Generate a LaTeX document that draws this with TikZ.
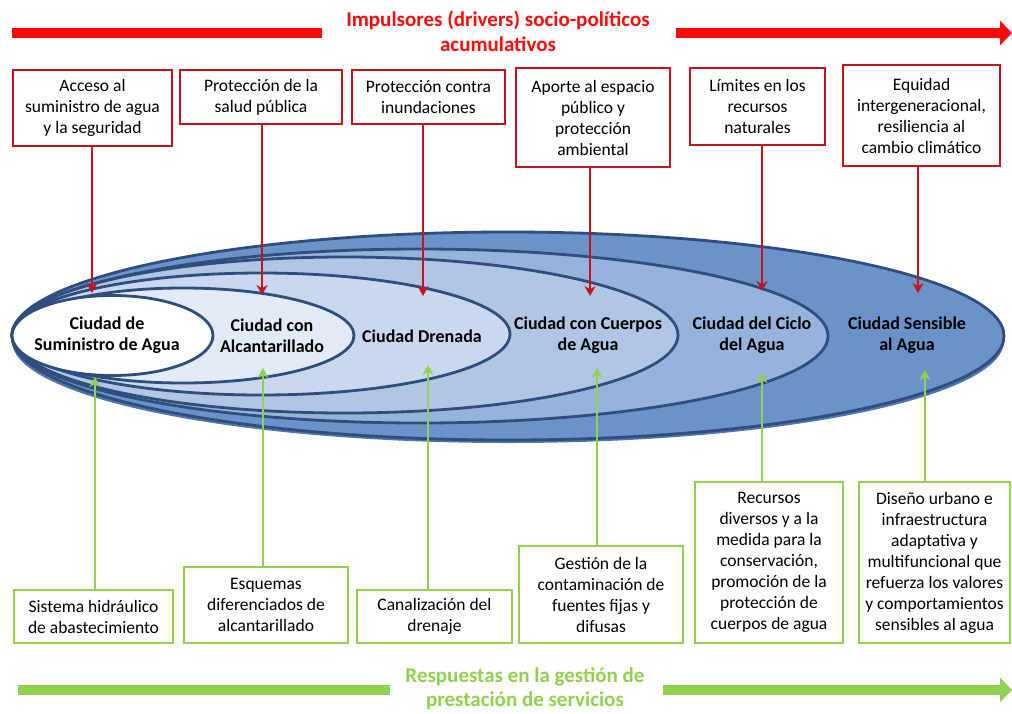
\documentclass[tikz,border=0pt]{standalone}
\usepackage{fontspec}
\setmainfont{Carlito}
\usetikzlibrary{arrows.meta}
\definecolor{dred}{HTML}{C4121F}
\definecolor{bred}{HTML}{FF0A0A}
\definecolor{lgreen}{HTML}{92D050}
\definecolor{navy}{HTML}{2F4E7E}
\definecolor{fA}{HTML}{FFFFFF}
\definecolor{fB}{HTML}{E2EAF5}
\definecolor{fC}{HTML}{C9D8EE}
\definecolor{fD}{HTML}{B1C6E5}
\definecolor{fE}{HTML}{98B3DB}
\definecolor{fF}{HTML}{6B93C9}
\definecolor{fS}{HTML}{4E76AD}
\tikzset{
  redbox/.style={draw=dred, line width=1.8pt, fill=white, align=center, inner sep=2pt,
    font=\fontsize{17.5}{21}\selectfont},
  greenbox/.style={draw=lgreen, line width=1.8pt, fill=white, align=center, inner sep=2pt,
    font=\fontsize{17.5}{21}\selectfont},
  citylabel/.style={align=center, font=\fontsize{18}{21}\selectfont\bfseries, text=black},
  redarrow/.style={draw=dred, line width=2pt, -{Stealth[length=10pt,width=11pt]}},
  greenarrow/.style={draw=lgreen, line width=2pt, -{Stealth[length=10pt,width=11pt]}},
  ell/.style={draw=navy, line width=2.8pt},
  titlered/.style={align=center, text=bred, font=\fontsize{21}{25}\selectfont\bfseries},
  titlegreen/.style={align=center, text=lgreen, font=\fontsize{21}{24}\selectfont\bfseries},
}
\begin{document}
\begin{tikzpicture}[x=1pt,y=-1pt]
\useasboundingbox (0,0) rectangle (1012,713);

% title and red bar
\node[titlered] (ttop) at (498,31.5) {Impulsores (drivers) socio-políticos\\acumulativos};
\coordinate (rb1) at (12,33);
\coordinate (rb2) at (322,33);
\coordinate (rb3) at (676,33);
\coordinate (rb4) at (1012,33);
\draw[bred, line width=10pt] (rb1) -- (rb2);
\draw[bred, line width=10pt, -{Triangle[length=12pt,width=24pt]}] (rb3) -- (rb4);

% ellipses
\fill[fS] (508,341) ellipse [x radius=496pt, y radius=102pt];
\filldraw[ell, fill=fF] (508,336) ellipse [x radius=496pt, y radius=104pt];
\filldraw[ell, fill=fE] (420,336) ellipse [x radius=408pt, y radius=87pt];
\filldraw[ell, fill=fD] (345,335) ellipse [x radius=333pt, y radius=78pt];
\filldraw[ell, fill=fC] (261,334) ellipse [x radius=249pt, y radius=61pt];
\filldraw[ell, fill=fB] (183,335.5) ellipse [x radius=171pt, y radius=47.5pt];
\filldraw[ell, fill=fA] (112.5,335.5) ellipse [x radius=100.5pt, y radius=40pt];

% city labels
\node[citylabel] (c1) at (107,335.5) {Ciudad de\\Suministro de Agua};
\node[citylabel] (c2) at (272,335.5) {Ciudad con\\Alcantarillado};
\node[citylabel] (c3) at (422,336) {Ciudad Drenada};
\node[citylabel] (c4) at (588,335.5) {Ciudad con Cuerpos\\de Agua};
\node[citylabel] (c5) at (752,335.5) {Ciudad del Ciclo\\del Agua};
\node[citylabel] (c6) at (907,335.5) {Ciudad Sensible\\al Agua};

% top boxes
\node[redbox, minimum width=159pt, minimum height=76pt] (t1) at (92.5,108) {Acceso al\\suministro de agua\\y la seguridad};
\node[redbox, minimum width=162pt, minimum height=54pt] (t2) at (261,97) {Protección de la\\salud pública};
\node[redbox, minimum width=153pt, minimum height=54pt] (t3) at (428.5,97) {Protección contra\\inundaciones};
\node[redbox, minimum width=154pt, minimum height=99pt] (t4) at (593,117.5) {Aporte al espacio\\público y\\protección\\ambiental};
\node[redbox, minimum width=135pt, minimum height=77pt] (t5) at (757.5,106.5) {Límites en los\\recursos\\naturales};
\node[redbox, minimum width=157pt, minimum height=101pt] (t6) at (921.5,115.5) {Equidad\\intergeneracional,\\resiliencia al\\cambio climático};

% red arrow tips
\coordinate (r1) at (92,293);
\coordinate (r2) at (262,295);
\coordinate (r3) at (423,296);
\coordinate (r4) at (590,296);
\coordinate (r5) at (762,291);
\coordinate (r6) at (918,293);
\draw[redarrow] (r1 |- t1.south) -- (r1);
\draw[redarrow] (r2 |- t2.south) -- (r2);
\draw[redarrow] (r3 |- t3.south) -- (r3);
\draw[redarrow] (r4 |- t4.south) -- (r4);
\draw[redarrow] (r5 |- t5.south) -- (r5);
\draw[redarrow] (r6 |- t6.south) -- (r6);

% bottom boxes
\node[greenbox, minimum width=159pt, minimum height=53pt] (b1) at (93.5,616.5) {Sistema hidráulico\\de abastecimiento};
\node[greenbox, minimum width=164pt, minimum height=76pt] (b2) at (266,605) {Esquemas\\diferenciados de\\alcantarillado};
\node[greenbox, minimum width=155pt, minimum height=53pt] (b3) at (434.5,616.5) {Canalización del\\drenaje};
\node[greenbox, minimum width=164pt, minimum height=97pt] (b4) at (601,594.5) {Gestión de la\\contaminación de\\fuentes fijas y\\difusas};
\node[greenbox, minimum width=148pt, minimum height=161pt] (b5) at (769,562.5) {Recursos\\diversos y a la\\medida para la\\conservación,\\promoción de la\\protección de\\cuerpos de agua};
\node[greenbox, minimum width=151pt, minimum height=161pt] (b6) at (934.5,562.5) {Diseño urbano e\\infraestructura\\adaptativa y\\multifuncional que\\refuerza los valores\\y comportamientos\\sensibles al agua};

% green arrow tips
\coordinate (g1) at (95,377);
\coordinate (g2) at (263,368);
\coordinate (g3) at (428,365);
\coordinate (g4) at (597,368);
\coordinate (g5) at (762,373);
\coordinate (g6) at (925,370);
\draw[greenarrow] (g1 |- b1.north) -- (g1);
\draw[greenarrow] (g2 |- b2.north) -- (g2);
\draw[greenarrow] (g3 |- b3.north) -- (g3);
\draw[greenarrow] (g4 |- b4.north) -- (g4);
\draw[greenarrow] (g5 |- b5.north) -- (g5);
\draw[greenarrow] (g6 |- b6.north) -- (g6);

% bottom title and green bar
\node[titlegreen] (tbot) at (525,689) {Respuestas en la gestión de\\prestación de servicios};
\coordinate (gb1) at (18,690);
\coordinate (gb2) at (390,690);
\coordinate (gb3) at (663,690);
\coordinate (gb4) at (1012,690);
\draw[lgreen, line width=10pt] (gb1) -- (gb2);
\draw[lgreen, line width=10pt, -{Triangle[length=12pt,width=24pt]}] (gb3) -- (gb4);
\end{tikzpicture}
\end{document}
